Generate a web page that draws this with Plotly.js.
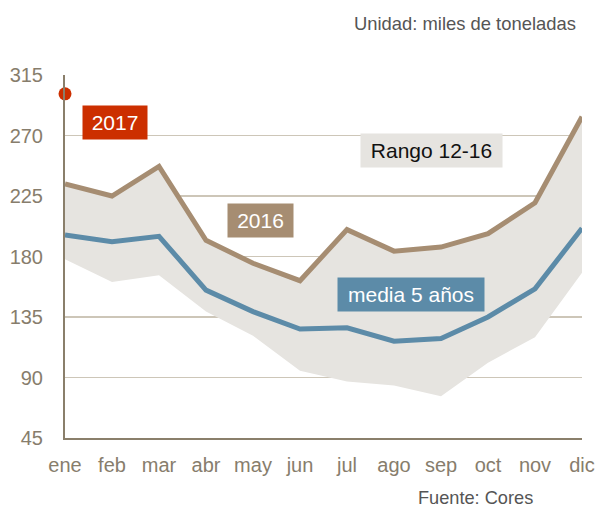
<!DOCTYPE html>
<html>
<head>
<meta charset="utf-8">
<script src="https://cdn.plot.ly/plotly-3.0.1.min.js"></script>
<style>
  html, body { margin: 0; padding: 0; background: #fff; }
  #chart { width: 597px; height: 507px; }
</style>
</head>
<body>
<div id="chart"></div>
<script>
// months on the x axis
const meses = ['ene', 'feb', 'mar', 'abr', 'may', 'jun', 'jul', 'ago', 'sep', 'oct', 'nov', 'dic'];

// miles de toneladas
const rangoMin = [178, 161, 166, 139, 121, 95, 87, 84, 76, 101, 120, 168];
const valores2016 = [234, 225, 247, 192, 175, 162, 200, 184, 187, 197, 220, 284];
const media5 = [196, 191, 195, 155, 139, 126, 127, 117, 119, 135, 156, 201];
const valores2017 = [301];

const tan = '#a68d72';
const blue = '#5c8ba8';
const red = '#cc2f00';
const axisText = '#877d6c';

const traces = [
    {   // bottom edge of the 2012-16 band
        x: meses, y: rangoMin,
        type: 'scatter', mode: 'lines',
        line: { width: 0 },
        hoverinfo: 'skip'
    },
    {   // 2016 is the top of the band
        x: meses, y: valores2016,
        type: 'scatter', mode: 'lines',
        fill: 'tonexty', fillcolor: '#e6e4e0',
        line: { color: tan, width: 5 },
        name: '2016'
    },
    {
        x: meses, y: media5,
        type: 'scatter', mode: 'lines',
        line: { color: blue, width: 5 },
        name: 'media 5 años'
    },
    {
        x: meses.slice(0, valores2017.length), y: valores2017,
        type: 'scatter', mode: 'markers',
        marker: { color: red, size: 13 },
        cliponaxis: false,
        name: '2017'
    }
];

const labelFont = { family: 'Liberation Sans, Arial, sans-serif', size: 21, color: '#fff' };

// boxed labels, centred on their spot
function etiqueta(x, y, text, bg, w, color) {
    return {
        xref: 'paper', yref: 'paper', x: x, y: y,
        xanchor: 'center', yanchor: 'middle',
        text: text, showarrow: false,
        font: Object.assign({}, labelFont, { color: color || '#fff' }),
        bgcolor: bg, width: w, height: 33, borderpad: 0
    };
}

const layout = {
    width: 597, height: 507,
    showlegend: false,
    paper_bgcolor: '#fff', plot_bgcolor: '#fff',
    margin: { l: 65, r: 15, t: 75, b: 69, pad: 0 },
    font: { family: 'Liberation Sans, Arial, sans-serif', size: 20, color: axisText },
    xaxis: {
        type: 'category',
        range: [0, 11],
        showgrid: false,
        showline: true, linecolor: '#8a7f6b', linewidth: 2,
        ticks: '',
        ticklabelstandoff: 8,
        tickfont: { size: 20, color: axisText },
        fixedrange: true
    },
    yaxis: {
        range: [45, 315],
        tickvals: [45, 90, 135, 180, 225, 270, 315],
        showgrid: true, gridcolor: '#cdc6b8', gridwidth: 1.5,
        zeroline: false,
        showline: true, linecolor: '#8a7f6b', linewidth: 2,
        ticks: '',
        ticklabelstandoff: 16,
        tickfont: { size: 20, color: axisText },
        fixedrange: true
    },
    annotations: [
        etiqueta(0.097, 0.868, '2017', red, 64),
        etiqueta(0.378, 0.600, '2016', tan, 65),
        etiqueta(0.709, 0.791, 'Rango 12-16', '#e6e4e0', 141, '#111'),
        etiqueta(0.670, 0.394, 'media 5 años', blue, 146),
        {
            xref: 'paper', yref: 'paper', x: 1.0, y: 1.0,
            xshift: -4, yshift: 52, xanchor: 'right', yanchor: 'middle',
            text: 'Unidad: miles de toneladas', showarrow: false,
            font: { family: 'Liberation Sans, Arial, sans-serif', size: 18.4, color: '#555' }
        },
        {
            xref: 'paper', yref: 'paper', x: 0.905, y: 0,
            xshift: 2, yshift: -60, xanchor: 'right', yanchor: 'middle',
            text: 'Fuente: Cores', showarrow: false,
            font: { family: 'Liberation Sans, Arial, sans-serif', size: 18.2, color: '#555' }
        }
    ]
};

Plotly.newPlot('chart', traces, layout, { displayModeBar: false, staticPlot: true });
</script>
</body>
</html>
